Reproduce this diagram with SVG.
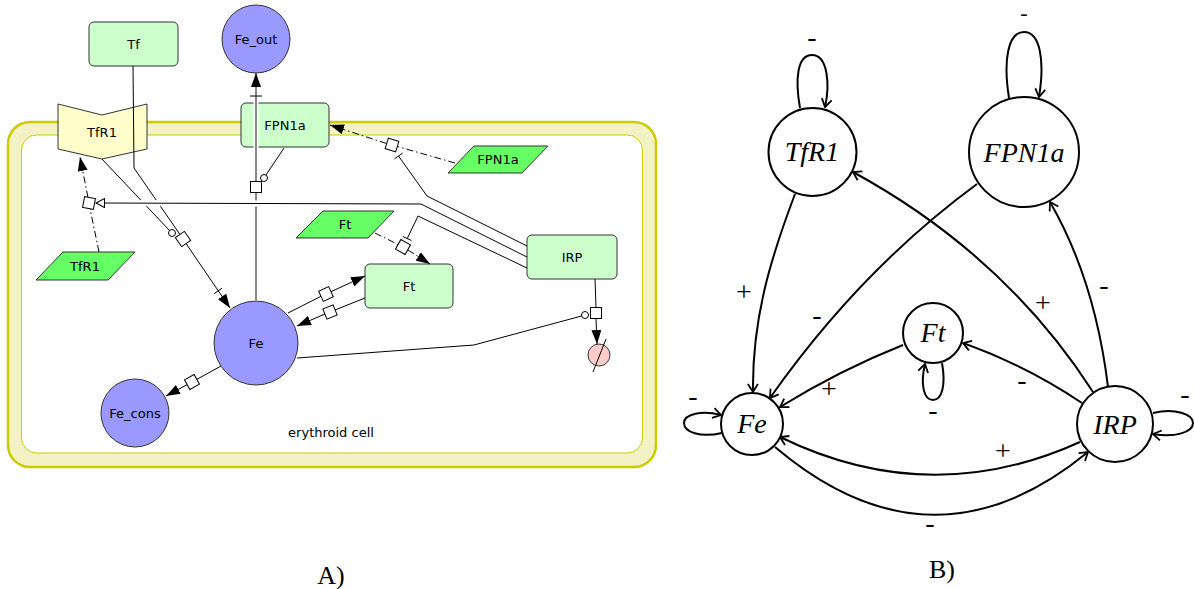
<svg xmlns="http://www.w3.org/2000/svg" xmlns:xlink="http://www.w3.org/1999/xlink" width="1194" height="589" viewBox="0 0 1194 589">
<style>
.lbl{font-family:"DejaVu Sans",sans-serif;font-size:13px;fill:#000;text-anchor:middle}
.big{font-family:"Liberation Serif",serif;font-size:26px;fill:#000;text-anchor:middle}
.sgn{font-family:"Liberation Serif",serif;font-size:28px;fill:#000;text-anchor:middle}
.node{font-family:"Liberation Serif",serif;font-style:italic;font-size:28px;fill:#000;text-anchor:middle}
.ln{fill:none;stroke:#000;stroke-width:1}
.gl{fill:none;stroke:#555;stroke-width:1.4}
.dd{fill:none;stroke:#000;stroke-width:1;stroke-dasharray:7,3,1.5,3}
.sq{fill:#fff;stroke:#000;stroke-width:1}
.cat{fill:#fff;stroke:#000;stroke-width:1}
.mac{fill:#ccffcc;stroke:#333;stroke-width:1}
.nuc{fill:#66ff66;stroke:#333;stroke-width:1}
.sim{fill:#9999ff;stroke:#333;stroke-width:1}
.bn{fill:#fff;stroke:#000;stroke-width:2}
.be{fill:none;stroke:#000;stroke-width:2}
</style>
<defs>
<marker id="arr" viewBox="0 0 14 10" refX="14" refY="5" markerWidth="14" markerHeight="10" markerUnits="userSpaceOnUse" orient="auto"><path d="M0,0 L14,5 L0,10 z" fill="#000"/></marker>
<marker id="stim" viewBox="0 0 10 10" refX="9.5" refY="5" markerWidth="10" markerHeight="10" markerUnits="userSpaceOnUse" orient="auto"><path d="M1,0.5 L9.5,5 L1,9.5 z" fill="#fff" stroke="#000" stroke-width="1"/></marker>
<marker id="open" viewBox="0 0 10 12" refX="9" refY="6" markerWidth="10" markerHeight="12" markerUnits="userSpaceOnUse" orient="auto"><path d="M1,1 L9,6 L1,11" fill="none" stroke="#000" stroke-width="1.8"/></marker>
<rect id="pq" x="-5.5" y="-5.5" width="11" height="11" class="sq"/>
</defs>

<!-- Panel A -->
<g id="compartment">
<rect x="8" y="122" width="648" height="345" rx="22" fill="#f2f2c4" stroke="#cccc00" stroke-width="2.5"/>
<rect x="21.5" y="135" width="621" height="318" rx="15" fill="#fff" stroke="#cccc00" stroke-width="1"/>
<text class="lbl" x="331" y="437">erythroid cell</text>
</g>

<g id="Tf"><rect class="mac" x="89" y="22" width="89" height="44" rx="5"/><text class="lbl" x="133.5" y="49">Tf</text></g>
<g id="Fe_out"><circle class="sim" cx="256" cy="39" r="34"/><text class="lbl" x="256" y="44">Fe_out</text></g>
<g id="FPN1a"><rect class="mac" x="241" y="103" width="88" height="44" rx="5"/><text class="lbl" x="285" y="130">FPN1a</text></g>
<g id="TfR1"><polygon points="58,104 102,115 147,104 147,149 102,159 58,149" fill="#ffffcc" stroke="#333" stroke-width="1"/><text class="lbl" x="102" y="137">TfR1</text></g>
<g id="FPN1a_gene"><polygon class="nuc" points="448,173 474,146 548,146 522,173"/><text class="lbl" x="498" y="164">FPN1a</text></g>
<g id="Ft_gene"><polygon class="nuc" points="296,238 323,211 394,211 368,238"/><text class="lbl" x="345" y="229">Ft</text></g>
<g id="TfR1_gene"><polygon class="nuc" points="36,280 63,252 135,252 108,280"/><text class="lbl" x="85" y="271">TfR1</text></g>
<g id="Ft"><rect class="mac" x="365" y="264" width="88" height="44" rx="5"/><text class="lbl" x="409" y="291">Ft</text></g>
<g id="IRP"><rect class="mac" x="527" y="235" width="90" height="44" rx="5"/><text class="lbl" x="572" y="262">IRP</text></g>
<g id="Fe"><circle class="sim" cx="256" cy="343" r="42"/><text class="lbl" x="256" y="348">Fe</text></g>
<g id="Fe_cons"><circle class="sim" cx="135" cy="413" r="34"/><text class="lbl" x="135" y="418">Fe_cons</text></g>
<g id="sink"><circle cx="599" cy="355" r="11" fill="#ffcccc" stroke="#333" stroke-width="1"/><line class="ln" x1="593" y1="372" x2="606" y2="339"/></g>

<g id="connectors-A">
<!-- Tf + TfR1 -> Fe -->
<polyline class="ln" points="133,66 134,168 180,234.5"/>
<line class="ln" x1="186" y1="243.5" x2="230" y2="308" marker-end="url(#arr)"/>
<line class="ln" x1="213.9" y1="293.8" x2="222.1" y2="288.2"/>
<line class="ln" x1="102" y1="159" x2="169.5" y2="230.5"/>
<circle class="cat" cx="172" cy="233" r="3.5"/>
<use xlink:href="#pq" transform="translate(183,239) rotate(55)"/>

<!-- FPN1a transport Fe -> Fe_out -->
<line x1="256" y1="99" x2="256" y2="152" stroke="#fff" stroke-width="5"/>
<line class="gl" x1="256" y1="300" x2="256" y2="193"/>
<line class="gl" x1="256" y1="181" x2="256" y2="73" marker-end="url(#arr)"/>
<line class="ln" x1="250" y1="96" x2="262" y2="96"/>
<line class="ln" x1="284" y1="148" x2="266" y2="175"/>
<circle class="cat" cx="264" cy="178" r="3.5"/>
<use xlink:href="#pq" transform="translate(256,187)"/>

<!-- FPN1a translation -->
<line class="dd" x1="455" y1="163" x2="397.5" y2="146.5"/>
<line class="dd" x1="386.5" y1="143.5" x2="330" y2="125" marker-end="url(#arr)"/>
<use xlink:href="#pq" transform="translate(392,145) rotate(17)"/>
<polyline class="ln" points="527,246 427,196 398.5,156"/>
<line class="ln" x1="402.6" y1="153.1" x2="394.4" y2="158.9"/>

<!-- TfR1 translation -->
<line class="dd" x1="99" y1="252" x2="90" y2="208.5"/>
<line class="dd" x1="88" y1="197.5" x2="80" y2="157" marker-end="url(#arr)"/>
<use xlink:href="#pq" transform="translate(89,203) rotate(11)"/>
<polyline points="421,204 105,203" fill="none" stroke="#fff" stroke-width="6"/>
<polyline class="ln" points="527,257 421,204 96,203" marker-end="url(#stim)"/>

<!-- Ft translation -->
<line class="dd" x1="375" y1="233" x2="398" y2="244.5"/>
<line class="dd" x1="408" y1="250" x2="430" y2="264" marker-end="url(#arr)"/>
<use xlink:href="#pq" transform="translate(403,247) rotate(29)"/>
<polyline class="ln" points="527,268 418,216 407.5,238"/>
<line class="ln" x1="403" y1="236.5" x2="411.5" y2="240.5"/>

<!-- Fe <-> Ft -->
<line class="ln" x1="288" y1="313" x2="321" y2="296.3"/>
<line class="ln" x1="331" y1="291.7" x2="365" y2="276" marker-end="url(#arr)"/>
<use xlink:href="#pq" transform="translate(326,294) rotate(-25)"/>
<line class="ln" x1="365" y1="298" x2="335" y2="310"/>
<line class="ln" x1="325" y1="314" x2="297" y2="326" marker-end="url(#arr)"/>
<use xlink:href="#pq" transform="translate(330,312) rotate(-22)"/>

<!-- Fe -> Fe_cons -->
<line class="ln" x1="221" y1="366" x2="197" y2="379.3"/>
<line class="ln" x1="187" y1="384.7" x2="166" y2="396" marker-end="url(#arr)"/>
<use xlink:href="#pq" transform="translate(192,382) rotate(-29)"/>

<!-- IRP degradation -->
<line class="ln" x1="595" y1="279" x2="596" y2="307.5"/>
<line class="ln" x1="596" y1="318.5" x2="597" y2="344" marker-end="url(#arr)"/>
<use xlink:href="#pq" transform="translate(596,313)"/>
<polyline class="ln" points="297,358 474,345 581.6,316"/>
<circle class="cat" cx="585" cy="315" r="3.5"/>
</g>

<text class="big" x="331" y="584">A)</text>

<!-- Panel B -->
<g id="connectors-B">
<path class="be" d="M800,108 C795,80 797,55 812,55 C828,55 830,85 825,107" marker-end="url(#open)"/>
<path class="be" d="M1009,98 C1003,60 1008,32 1024,32 C1040,32 1045,60 1039,97" marker-end="url(#open)"/>
<path class="be" d="M942,363 C946,385 942,400 933,400 C924,400 920,385 925,364" marker-end="url(#open)"/>
<path class="be" d="M722,433 C700,438 684,432 684,423 C684,414 702,410 721,415" marker-end="url(#open)"/>
<path class="be" d="M1153,413 C1175,408 1193,414 1193,423 C1193,432 1175,438 1153,434" marker-end="url(#open)"/>
<path class="be" d="M795,194 C770,260 752,320 753,392" marker-end="url(#open)"/>
<path class="be" d="M977,184 Q860,270 770,398" marker-end="url(#open)"/>
<path class="be" d="M1093,392 Q1005,255 853,172" marker-end="url(#open)"/>
<path class="be" d="M1108,387 Q1095,280 1050,202" marker-end="url(#open)"/>
<path class="be" d="M1082,403 Q1025,365 963,343" marker-end="url(#open)"/>
<path class="be" d="M903,345 Q840,370 780,407" marker-end="url(#open)"/>
<path class="be" d="M1080,442 Q930,510 780,437" marker-end="url(#open)"/>
<path class="be" d="M775,447 Q932,580 1088,452" marker-end="url(#open)"/>
</g>
<g id="edge-labels">
<text class="sgn" x="812" y="46">-</text>
<text class="sgn" x="1024" y="20" style="font-size:22px">-</text>
<text class="sgn" x="744" y="301">+</text>
<text class="sgn" x="817" y="324">-</text>
<text class="sgn" x="1043" y="312">+</text>
<text class="sgn" x="1104" y="294">-</text>
<text class="sgn" x="1022" y="389">-</text>
<text class="sgn" x="829" y="398">+</text>
<text class="sgn" x="933" y="419">-</text>
<text class="sgn" x="693" y="405">-</text>
<text class="sgn" x="1185" y="403">-</text>
<text class="sgn" x="1003" y="460">+</text>
<text class="sgn" x="930" y="532">-</text>
</g>
<g id="B_TfR1"><circle class="bn" cx="812.5" cy="152" r="44"/><text class="node" x="812" y="161">TfR1</text></g>
<g id="B_FPN1a"><circle class="bn" cx="1024" cy="152" r="55"/><text class="node" x="1024" y="162">FPN1a</text></g>
<g id="B_Ft"><circle class="bn" cx="933" cy="333" r="30"/><text class="node" x="933" y="342">Ft</text></g>
<g id="B_Fe"><circle class="bn" cx="752" cy="424" r="31"/><text class="node" x="752" y="433">Fe</text></g>
<g id="B_IRP"><circle class="bn" cx="1115" cy="424" r="38"/><text class="node" x="1115" y="434">IRP</text></g>

<text class="big" x="942" y="578">B)</text>
</svg>
